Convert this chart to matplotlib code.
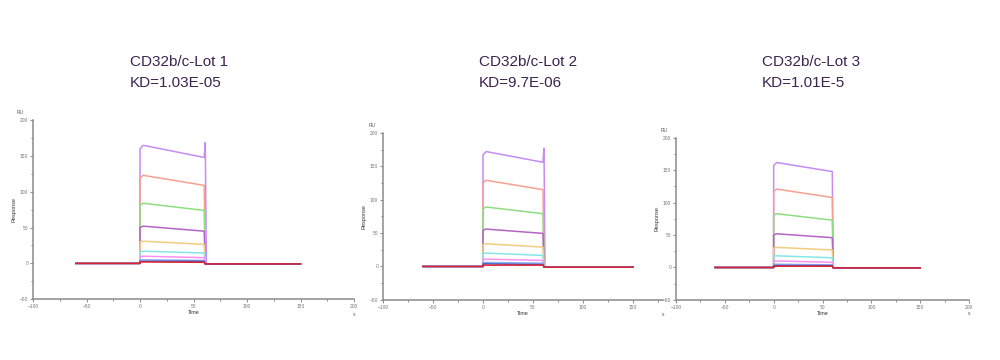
import matplotlib.pyplot as plt
from matplotlib.ticker import MultipleLocator

plt.rcParams['font.family'] = ['Liberation Sans', 'DejaVu Sans']

titles = ["CD32b/c-Lot 1", "CD32b/c-Lot 2", "CD32b/c-Lot 3"]
kd_labels = ["KD=1.03E-05", "KD=9.7E-06", "KD=1.01E-5"]

# one curve per analyte concentration, high to low
colors = ['#c48cf4', '#f8a090', '#8ede80', '#b464c4', '#f2cc80',
          '#86e6e6', '#ff90f0', '#90b0f4', '#4060c8', '#e0202c']

# time points of each sensorgram (s)
t_pts = [-60, 0, 0, 3, 60, 61, 62, 150]

# response at the start of association (peak) and at the end (t=60)
peak_1 = [165, 123, 84, 52, 31, 17, 10, 5, 3, 2]
end_1 = [148, 109, 74, 45, 26.5, 14.5, 8, 4, 3, 1.5]
peak_2 = [172, 129, 89, 56, 34, 20, 11, 6, 4, 2]
end_2 = [156, 115, 79, 49.5, 29, 16.5, 9, 5, 3, 2]
peak_3 = [162, 121, 83, 52, 31, 18, 10, 5, 3, 2]
end_3 = [148, 108, 73, 46, 27, 15, 8, 4, 3, 2]

# injection-end spike of the top curve
spike = [169, 177, None]
diss_base = [-0.8, -1.0, -0.6]

peaks = [peak_1, peak_2, peak_3]
ends = [end_1, end_2, end_3]

# axes boxes (fig fraction) and x range
boxes = [[0.033, 0.169, 0.321, 0.497],
         [0.383, 0.167, 0.280, 0.464],
         [0.676, 0.167, 0.293, 0.450]]
xmax = [200, 180, 200]
title_x = [0.130, 0.479, 0.762]

fig = plt.figure(figsize=(10, 3.6), dpi=100)

for p in range(3):
    ax = fig.add_axes(boxes[p])
    for i, c in enumerate(colors):
        pk = peaks[p][i]
        en = ends[p][i]
        sp = spike[p] if (i == 0 and spike[p] is not None) else diss_base[p]
        y = [0, 0, pk * 0.97, pk, en, sp, diss_base[p], diss_base[p]]
        ax.plot(t_pts, y, color=c, lw=1.1, zorder=2 + i * 0.1)
    ax.set_xlim(-100, xmax[p])
    ax.set_ylim(-50, 200)
    ax.xaxis.set_major_locator(MultipleLocator(50))
    ax.xaxis.set_minor_locator(MultipleLocator(25))
    ax.yaxis.set_major_locator(MultipleLocator(50))
    ax.yaxis.set_minor_locator(MultipleLocator(25))
    for s in ['top', 'right']:
        ax.spines[s].set_visible(False)
    for s in ['left', 'bottom']:
        ax.spines[s].set_color('#8a8a8a')
        ax.spines[s].set_linewidth(1.1)
    ax.tick_params(which='both', direction='out', length=2, width=0.6,
                   colors='#777777', labelsize=3.5, pad=1.5)
    ax.tick_params(which='minor', length=1.5)
    ax.set_xlabel("Time", fontsize=4, labelpad=1, color='#333333')
    ax.set_ylabel("Response", fontsize=4, labelpad=2, color='#333333')
    ax.text(-0.04, 1.03, "RU", transform=ax.transAxes, fontsize=3.5,
            color='#555555', ha='center', va='bottom')
    ax.text(1.0, -0.07, "s", transform=ax.transAxes, fontsize=3.5,
            color='#555555', ha='center', va='top')
    fig.text(title_x[p], 1 - 62 / 360, titles[p], fontsize=11,
             color='#3a2450', ha='left', va='center')
    fig.text(title_x[p], 1 - 83 / 360, kd_labels[p], fontsize=11,
             color='#3a2450', ha='left', va='center')

fig.savefig("out.png", dpi=100)
